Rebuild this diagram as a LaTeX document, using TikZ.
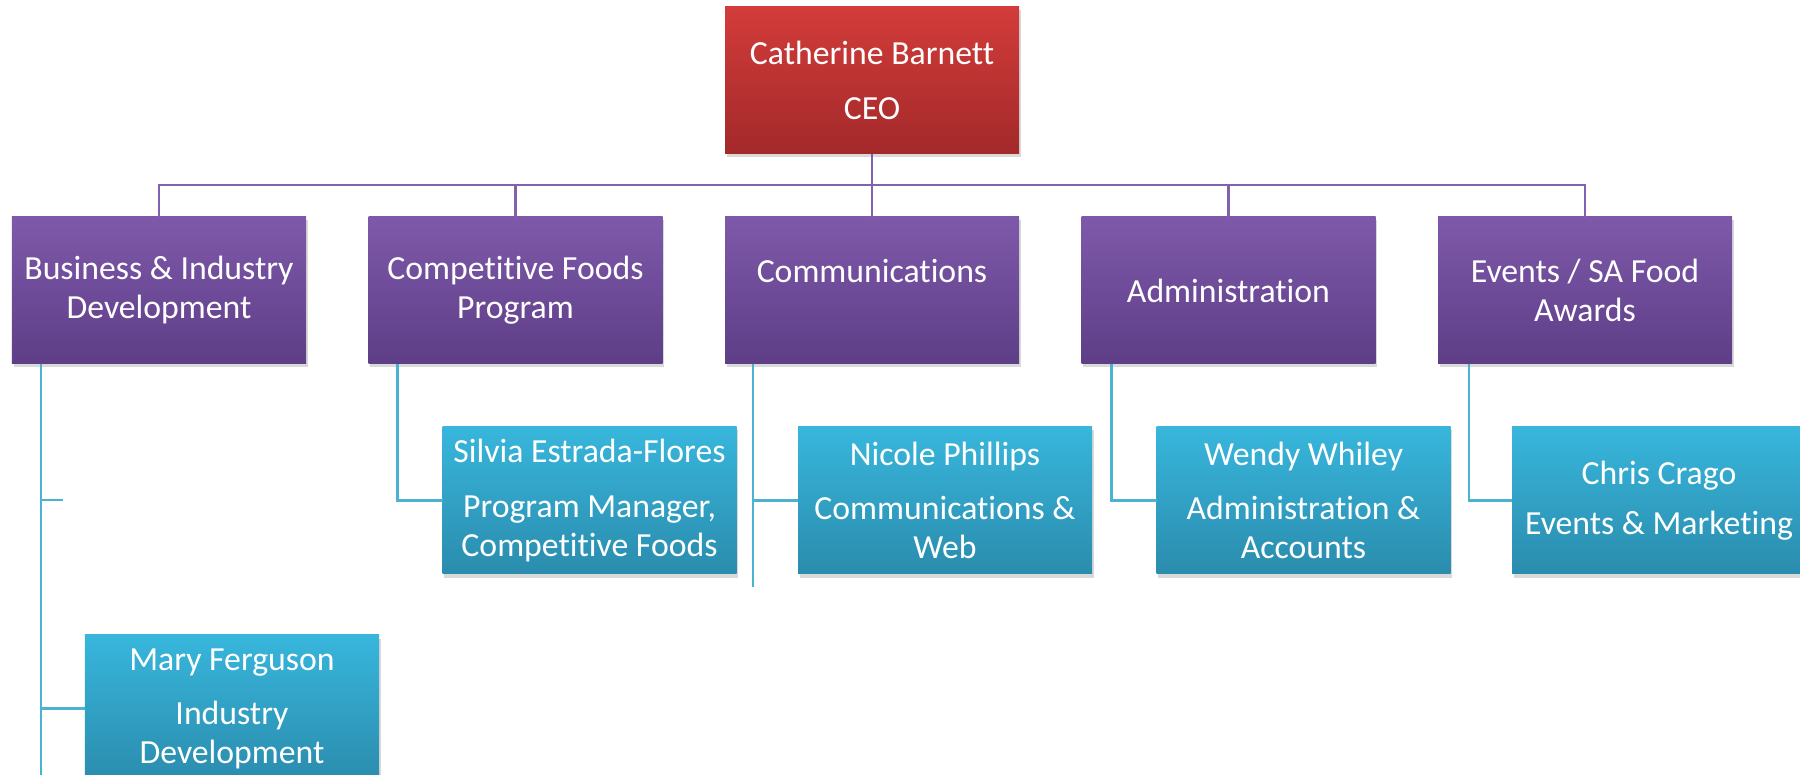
\documentclass[tikz,border=0pt]{standalone}
\usepackage{fontspec}
\setmainfont{Carlito}[Ligatures=NoCommon]
\usepackage{tikz}
\usetikzlibrary{positioning, shadows}

\definecolor{ceotop}{HTML}{D23C3A}
\definecolor{ceobot}{HTML}{A3292A}
\definecolor{depttop}{HTML}{7E59AA}
\definecolor{deptbot}{HTML}{5E3E87}
\definecolor{stafftop}{HTML}{38B6DC}
\definecolor{staffbot}{HTML}{2A8CAD}
\definecolor{deptcol}{HTML}{8062AE}
\definecolor{staffcol}{HTML}{4BB2D2}

\begin{document}
\begin{tikzpicture}[
    node distance=0.63cm and 0.625cm,
    box/.style={align=center, text=white, font=\fontsize{9.6}{11.1}\selectfont, minimum width=2.94cm, minimum height=1.47cm, inner sep=0pt, outer sep=0pt, drop shadow={shadow xshift=0.5pt, shadow yshift=-1pt, opacity=0.3}},
    ceobox/.style={box, top color=ceotop, bottom color=ceobot},
    deptbox/.style={box, top color=depttop, bottom color=deptbot},
    staffbox/.style={box, top color=stafftop, bottom color=staffbot},
    orgline/.style={draw=deptcol, line width=0.7pt},
    staffline/.style={draw=staffcol, line width=0.7pt}
]
\useasboundingbox (0,0) rectangle (18,-7.75);

% Nodes
\node[deptbox, anchor=north west] (biz) at (0.12,-2.17) {Business \& Industry\\Development};
\node[deptbox] (comp) [right=of biz] {Competitive Foods\\Program};
\node[deptbox] (comm) [right=of comp] {Communications\\~};
\node[deptbox] (admin) [right=of comm] {Administration};
\node[deptbox] (events) [right=of admin] {Events / SA Food\\Awards};
\node[ceobox] (ceo) [above=of comm] {Catherine Barnett\\[4.4pt]CEO};

\node[staffbox] (silvia) [below right=0.63cm and 0.74cm of comp.south west] {Silvia Estrada-Flores\\[4.3pt]Program Manager,\\Competitive Foods};
\node[staffbox] (nicole) [below right=0.63cm and 0.73cm of comm.south west] {Nicole Phillips\\[4.3pt]Communications \&\\Web};
\node[staffbox] (wendy) [below right=0.63cm and 0.75cm of admin.south west] {Wendy Whiley\\[4.3pt]Administration \&\\Accounts};
\node[staffbox] (chris) [below right=0.63cm and 0.74cm of events.south west] {Chris Crago\\[3pt]Events \& Marketing};
\node[staffbox] (mary) [below right=2.71cm and 0.73cm of biz.south west] {Mary Ferguson\\[4.3pt]Industry\\Development};

\coordinate (bus) at (0,-1.85);
\coordinate (biztop) at ([xshift=0.29cm]biz.south west);
\coordinate (bizend) at (biztop |- 0,-7.75);
\coordinate (bizstub) at (0.63,-5.0);
\coordinate (commtop) at ([xshift=0.28cm]comm.south west);
\coordinate (commend) at ([yshift=-2.23cm]commtop);

% Edges
\draw[orgline] (ceo) -- (comm);
\draw[orgline] (biz.north) -- (biz.north |- bus) -- (events.north |- bus) -- (events.north);
\draw[orgline] (comp.north) -- (comp.north |- bus);
\draw[orgline] (admin.north) -- (admin.north |- bus);

\draw[staffline] (biztop) -- (bizend);
\draw[staffline] (biztop |- bizstub) -- (bizstub);
\draw[staffline] (biztop |- mary.west) -- (mary.west);
\draw[staffline] ([xshift=0.29cm]comp.south west) |- (silvia.west);
\draw[staffline] (commtop) -- (commend);
\draw[staffline] (commtop |- nicole.west) -- (nicole.west);
\draw[staffline] ([xshift=0.30cm]admin.south west) |- (wendy.west);
\draw[staffline] ([xshift=0.31cm]events.south west) |- (chris.west);

\end{tikzpicture}
\end{document}
